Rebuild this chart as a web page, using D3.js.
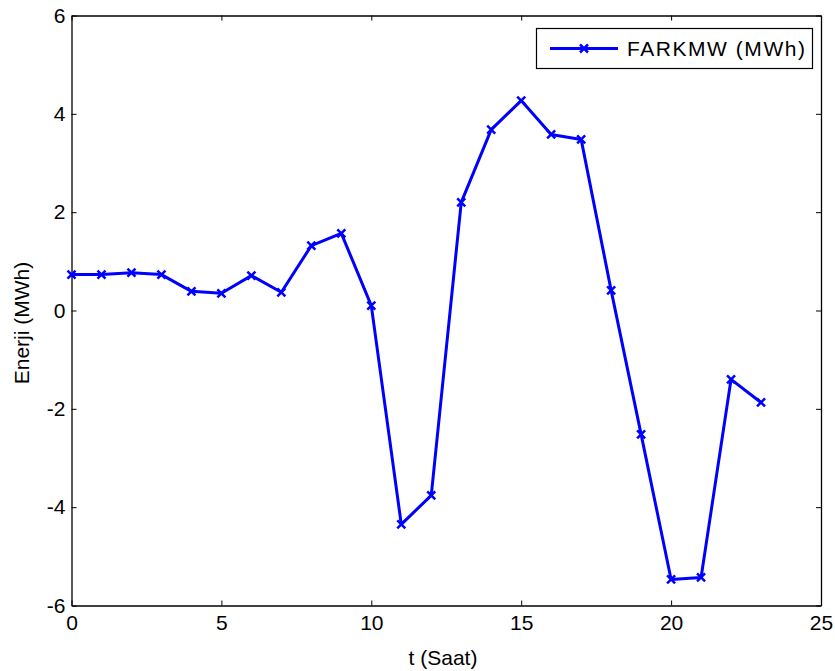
<!DOCTYPE html>
<html>
<head>
<meta charset="utf-8">
<script src="https://d3js.org/d3.v7.min.js"></script>
<style>
	body { margin: 0; background: #fff; }
	text { font-family: Arial, "Liberation Sans", sans-serif; }
</style>
</head>
<body>
<div id="chart"></div>
<script>
var hours = [0,1,2,3,4,5,6,7,8,9,10,11,12,13,14,15,16,17,18,19,20,21,22,23];
var farkValues = [0.73,0.73,0.77,0.73,0.39,0.35,0.71,0.37,1.32,1.57,0.10,-4.35,
	-3.76,2.20,3.68,4.27,3.58,3.48,0.41,-2.52,-5.47,-5.43,-1.40,-1.87];
var xTicks = [0,5,10,15,20,25];
var yTicks = [-6,-4,-2,0,2,4,6];
var seriesName = "FARKMW (MWh)";

var WIDTH = 835, HEIGHT = 671;
var FONT = 21;
var margin = {left: 71.5, top: 15.5, right: 14, bottom: 65.5};
var w = WIDTH - margin.left - margin.right;
var h = HEIGHT - margin.top - margin.bottom;

var svg = d3.select('#chart').append('svg')
	.attr('width', WIDTH).attr('height', HEIGHT);
var g = svg.append('g').attr('transform', 'translate(' + margin.left + ',' + margin.top + ')');

var x = d3.scaleLinear().domain([0, 25]).range([0, w]);
var y = d3.scaleLinear().domain([-6, 6]).range([h, 0]);
var plain = function(d) { return String(d); }; // keep hyphen minus like the original

// axes with inward ticks, MATLAB box style
function styleAxis(ax, showLabels) {
	ax.selectAll('path').attr('stroke', '#000').attr('stroke-width', 1.3);
	ax.selectAll('.tick line').attr('stroke', '#000');
	ax.selectAll('text').attr('font-size', FONT).attr('fill', '#000');
	if (!showLabels) ax.selectAll('text').remove();
}
var xb = g.append('g').attr('transform', 'translate(0,' + h + ')')
	.call(d3.axisBottom(x).tickValues(xTicks).tickFormat(plain).tickSize(-5).tickSizeOuter(0).tickPadding(10));
styleAxis(xb, true);
var xt = g.append('g')
	.call(d3.axisTop(x).tickValues(xTicks).tickSize(-5).tickSizeOuter(0));
styleAxis(xt, false);
var yl = g.append('g')
	.call(d3.axisLeft(y).tickValues(yTicks).tickFormat(plain).tickSize(-5).tickSizeOuter(0).tickPadding(6));
styleAxis(yl, true);
var yr = g.append('g').attr('transform', 'translate(' + w + ',0)')
	.call(d3.axisRight(y).tickValues(yTicks).tickSize(-5).tickSizeOuter(0));
styleAxis(yr, false);

// series line
var line = d3.line().x(function(d, i) { return x(hours[i]); }).y(function(d) { return y(d); });
g.append('path').datum(farkValues)
	.attr('d', line).attr('fill', 'none')
	.attr('stroke', '#0000ff').attr('stroke-width', 3).attr('stroke-linejoin', 'round');

// x markers
function crossPath(cx, cy, s) {
	return 'M' + (cx - s) + ',' + (cy - s) + 'L' + (cx + s) + ',' + (cy + s) +
		'M' + (cx - s) + ',' + (cy + s) + 'L' + (cx + s) + ',' + (cy - s);
}
g.selectAll('.mark').data(farkValues).enter().append('path')
	.attr('class', 'mark')
	.attr('d', function(d, i) { return crossPath(x(hours[i]), y(d), 4); })
	.attr('stroke', '#0000ff').attr('stroke-width', 2.5).attr('fill', 'none');

// axis labels
svg.append('text').attr('x', 443).attr('y', 665)
	.attr('text-anchor', 'middle').attr('font-size', FONT).text('t (Saat)');
svg.append('text').attr('transform', 'translate(29,323) rotate(-90)')
	.attr('text-anchor', 'middle').attr('font-size', FONT).text('Enerji (MWh)');

// legend
var leg = svg.append('g');
leg.append('rect').attr('x', 536.5).attr('y', 28.5).attr('width', 276).attr('height', 40)
	.attr('fill', '#fff').attr('stroke', '#000').attr('stroke-width', 1.2);
leg.append('line').attr('x1', 550).attr('x2', 618).attr('y1', 48.5).attr('y2', 48.5)
	.attr('stroke', '#0000ff').attr('stroke-width', 3);
leg.append('path').attr('d', crossPath(584, 48.5, 4))
	.attr('stroke', '#0000ff').attr('stroke-width', 2.5);
leg.append('text').attr('x', 627).attr('y', 56).attr('font-size', FONT)
	.attr('textLength', 178).attr('lengthAdjust', 'spacing').text(seriesName);
</script>
</body>
</html>
